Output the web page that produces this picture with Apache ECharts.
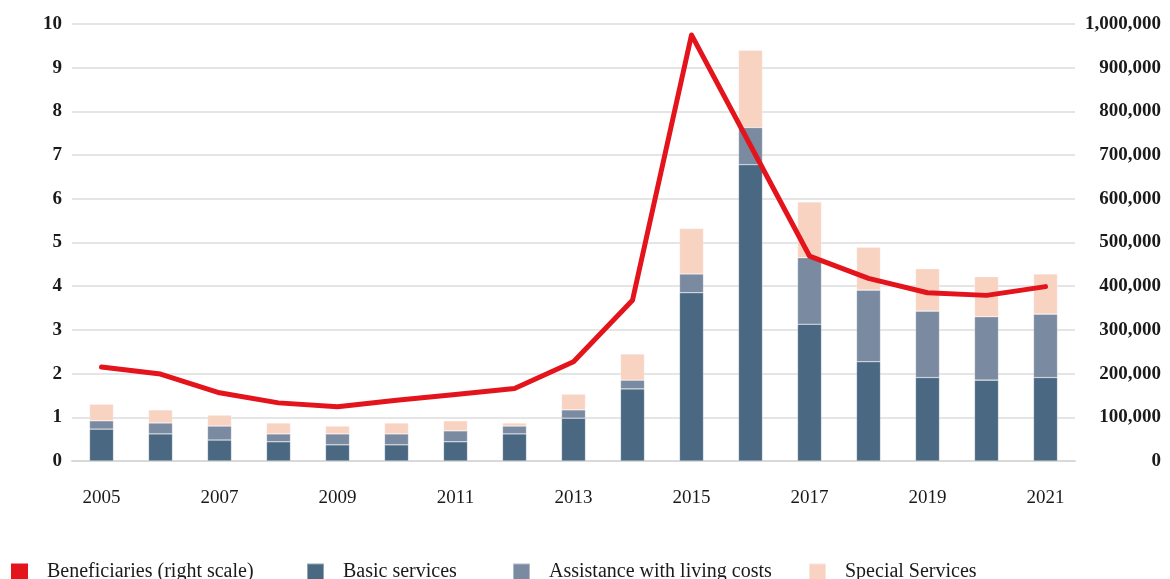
<!DOCTYPE html>
<html>
<head>
<meta charset="utf-8">
<script src="https://cdn.jsdelivr.net/npm/echarts@6/dist/echarts.min.js"></script>
<style>
  html, body { margin: 0; padding: 0; background: #fff; }
  #chart { width: 1170px; height: 579px; }
</style>
</head>
<body>
<div id="chart"></div>
<script>
// Years on the category axis
const years = ['2005','2006','2007','2008','2009','2010','2011','2012','2013',
               '2014','2015','2016','2017','2018','2019','2020','2021'];

// Stacked components (left scale)
const basicServices = [0.73,0.62,0.48,0.44,0.37,0.37,0.44,0.62,0.98,1.65,3.85,6.78,3.13,2.27,1.91,1.85,1.91];
const livingCosts   = [0.19,0.25,0.32,0.18,0.25,0.25,0.25,0.18,0.19,0.20,0.43,0.85,1.52,1.64,1.52,1.45,1.45];
const specialServ   = [0.38,0.30,0.25,0.25,0.18,0.25,0.23,0.07,0.36,0.60,1.04,1.77,1.28,0.98,0.97,0.92,0.92];

// Number of beneficiaries (right scale)
const beneficiaries = [215000,199000,156000,133000,124000,139000,152000,166000,227000,
                       368000,975000,722000,469000,418000,385000,379000,399000];

// Tick values
const leftTicks = { min: 0, max: 10, step: 1 };
const rightTicks = { min: 0, max: 1000000, step: 100000 };

const SERIF = '"Liberation Serif", "DejaVu Serif", serif';
const TEXT = '#1a1a1a';

const chart = echarts.init(document.getElementById('chart'), null, { renderer: 'canvas' });

function legendAt(name, left) {
  return {
    data: [name],
    left: left,
    top: 557,
    icon: 'rect',
    itemWidth: 17,
    itemHeight: 17,
    itemGap: 0,
    selectedMode: false,
    textStyle: { fontFamily: SERIF, fontSize: 20, color: TEXT, padding: [0, 0, 0, 14] }
  };
}

const barStyle = (color) => ({ color: color, borderColor: 'rgba(255,255,255,0.4)', borderWidth: 0.6 });

chart.setOption({
  animation: false,
  backgroundColor: '#ffffff',
  grid: { left: 72, right: 95, top: 24, bottom: 118 },
  legend: [
    legendAt('Beneficiaries (right scale)', 6),
    legendAt('Basic services', 301),
    legendAt('Assistance with living costs', 507),
    legendAt('Special Services', 803)
  ],
  xAxis: {
    type: 'category',
    data: years,
    boundaryGap: true,
    axisTick: { show: false },
    axisLine: { show: true, lineStyle: { color: '#d9d9d9', width: 2 } },
    axisLabel: {
      interval: 1,
      margin: 28,
      fontFamily: SERIF,
      fontSize: 19,
      color: TEXT
    }
  },
  yAxis: [
    {
      type: 'value',
      min: leftTicks.min, max: leftTicks.max, interval: leftTicks.step,
      axisLine: { show: false },
      axisTick: { show: false },
      splitLine: { show: true, lineStyle: { color: '#dcdcdc', width: 1.5 } },
      axisLabel: {
        margin: 10,
        fontFamily: SERIF, fontSize: 19, fontWeight: 'bold', color: TEXT
      }
    },
    {
      type: 'value',
      position: 'right',
      min: rightTicks.min, max: rightTicks.max, interval: rightTicks.step,
      axisLine: { show: false },
      axisTick: { show: false },
      splitLine: { show: false },
      axisLabel: {
        margin: 86,
        align: 'right',
        fontFamily: SERIF, fontSize: 19, fontWeight: 'bold', color: TEXT,
        formatter: (v) => v.toLocaleString('en-US')
      }
    }
  ],
  series: [
    {
      name: 'Basic services', type: 'bar', stack: 'total', yAxisIndex: 0,
      barWidth: 24, data: basicServices, itemStyle: barStyle('#4a6882')
    },
    {
      name: 'Assistance with living costs', type: 'bar', stack: 'total', yAxisIndex: 0,
      barWidth: 24, data: livingCosts, itemStyle: barStyle('#7a8aa0')
    },
    {
      name: 'Special Services', type: 'bar', stack: 'total', yAxisIndex: 0,
      barWidth: 24, data: specialServ, itemStyle: barStyle('#f8d3c2')
    },
    {
      name: 'Beneficiaries (right scale)', type: 'line', yAxisIndex: 1,
      data: beneficiaries,
      symbol: 'none',
      z: 5,
      lineStyle: { color: '#e3141c', width: 5, join: 'round', cap: 'round' },
      itemStyle: { color: '#e3141c' }
    }
  ]
});
</script>
</body>
</html>
